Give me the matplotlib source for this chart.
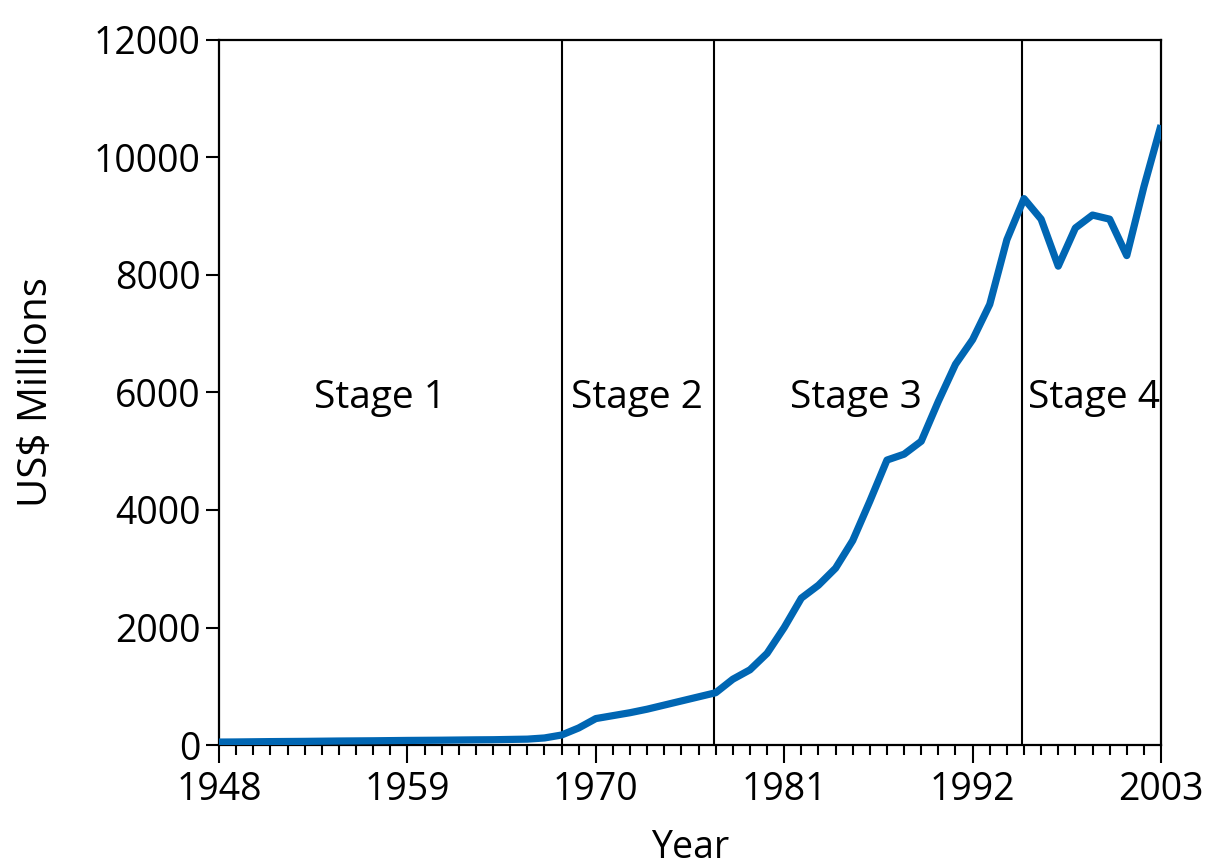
import matplotlib
matplotlib.use("Agg")
import matplotlib.pyplot as plt
from matplotlib.ticker import MultipleLocator, FixedLocator

plt.rcParams["font.family"] = ["Open Sans", "DejaVu Sans"]

years = list(range(1948, 2004))
values = [50, 52, 55, 58, 60, 62, 65, 68, 70, 72,
          75, 78, 80, 82, 85, 88, 90, 95, 100, 120,
          170, 290, 450, 500, 550, 610, 680, 750, 820, 890,
          1120, 1280, 1560, 2000, 2500, 2720, 3010, 3480, 4150, 4850,
          4950, 5170, 5850, 6480, 6900, 7500, 8600, 9300, 8950, 8150,
          8800, 9020, 8950, 8330, 9500, 10550]

stage_bounds = [1968, 1976.9, 1994.9]
stage_labels = ["Stage 1", "Stage 2", "Stage 3", "Stage 4"]
stage_x = [1957.4, 1972.4, 1985.2, 1999.1]
stage_y = 5900

fig = plt.figure(figsize=(12.06, 8.67), dpi=100)
ax = fig.add_axes([0.1816, 0.1407, 0.7811, 0.8132])

ax.plot(years, values, color="#0066b3", lw=5.2, solid_joinstyle="round",
        solid_capstyle="butt", zorder=3)

for b in stage_bounds:
    ax.axvline(b, color="black", lw=1.5, zorder=2)

for lab, sx in zip(stage_labels, stage_x):
    ax.text(sx, stage_y, lab, ha="center", va="center", fontsize=28)

ax.set_xlim(1948, 2003)
ax.set_ylim(0, 12000)
ax.xaxis.set_major_locator(FixedLocator([1948, 1959, 1970, 1981, 1992, 2003]))
ax.xaxis.set_minor_locator(MultipleLocator(1))
ax.yaxis.set_major_locator(MultipleLocator(2000))

for s in ax.spines.values():
    s.set_linewidth(1.6)

ax.tick_params(axis="x", which="major", length=13, width=1.5, pad=6, labelsize=27)
ax.tick_params(axis="x", which="minor", length=7.5, width=1.5)
ax.tick_params(axis="y", which="major", length=9.5, width=1.5, pad=4, labelsize=27)

ax.set_xlabel("Year", fontsize=27, labelpad=14)
ax.set_ylabel("US$ Millions", fontsize=29, labelpad=26)

fig.savefig("out.png", dpi=100)
